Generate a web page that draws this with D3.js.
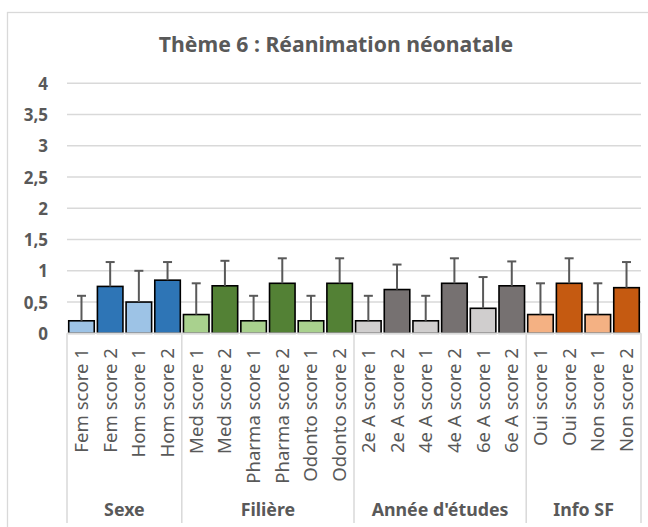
<!DOCTYPE html>
<html>
<head>
<meta charset="utf-8">
<script src="https://cdn.jsdelivr.net/npm/d3@7"></script>
<style>
  html, body { margin: 0; padding: 0; background: #fff; }
  svg { display: block; }
</style>
</head>
<body>
<svg id="chart" width="648" height="527"></svg>
<script>
const title = "Thème 6 : Réanimation néonatale";
const categories = [
  "Fem score 1", "Fem score 2", "Hom score 1", "Hom score 2",
  "Med score 1", "Med score 2", "Pharma score 1", "Pharma score 2", "Odonto score 1", "Odonto score 2",
  "2e A score 1", "2e A score 2", "4e A score 1", "4e A score 2", "6e A score 1", "6e A score 2",
  "Oui score 1", "Oui score 2", "Non score 1", "Non score 2"
];
const groups = ["Sexe", "Filière", "Année d'études", "Info SF"];
const groupSizes = [4, 6, 6, 4];
const values = [0.2, 0.75, 0.5, 0.85, 0.3, 0.76, 0.2, 0.8, 0.2, 0.8, 0.2, 0.7, 0.2, 0.8, 0.4, 0.76, 0.3, 0.8, 0.3, 0.73];
const errors = [0.4, 0.39, 0.5, 0.29, 0.5, 0.4, 0.4, 0.4, 0.4, 0.4, 0.4, 0.4, 0.4, 0.4, 0.5, 0.39, 0.5, 0.4, 0.5, 0.41];
const yTicks = [0, 0.5, 1, 1.5, 2, 2.5, 3, 3.5, 4];
const groupColors = [
  ["#9DC3E6", "#2E75B6"],
  ["#A9D18E", "#538135"],
  ["#D0CECE", "#767171"],
  ["#F4B183", "#C55A11"]
];

(function () {
const svg = d3.select("#chart");
const pLeft = 67, pRight = 641, pTop = 83.3, pBottom = 333.3, axisBottom = 523;

// chart border
svg.append("rect").attr("x", 7.5).attr("y", 12.5).attr("width", 660).attr("height", 540)
  .attr("fill", "#fff").attr("stroke", "#d9d9d9").attr("stroke-width", 1.3);

svg.append("text").attr("x", 336).attr("y", 52).attr("text-anchor", "middle")
  .attr("font-family", "Noto Sans").attr("font-weight", "bold").attr("font-size", 21.2)
  .attr("fill", "#595959").text(title);

const x = d3.scaleBand().domain(categories).range([pLeft, pRight]).paddingInner(0.11).paddingOuter(0.06);
const y = d3.scaleLinear().domain([0, 4]).range([pBottom, pTop]);

// gridlines
svg.append("g").selectAll("line").data(yTicks.filter(d => d > 0)).join("line")
  .attr("x1", pLeft).attr("x2", pRight).attr("y1", d => y(d)).attr("y2", d => y(d))
  .attr("stroke", "#d9d9d9").attr("stroke-width", 1.5);

// y axis labels
const yAxis = d3.axisLeft(y).tickValues(yTicks).tickSize(0).tickPadding(0)
  .tickFormat(d => String(d).replace(".", ","));
const ya = svg.append("g").attr("transform", "translate(48,0)").call(yAxis);
ya.select(".domain").remove();
ya.selectAll("text").attr("font-family", "Noto Sans").attr("font-weight", "bold")
  .attr("font-size", 17).attr("fill", "#595959").attr("dy", "0.35em");

const groupOf = [];
groupSizes.forEach((n, gi) => { for (let i = 0; i < n; i++) groupOf.push(gi); });

// bars
svg.append("g").selectAll("rect").data(categories).join("rect")
  .attr("x", d => x(d)).attr("width", x.bandwidth())
  .attr("y", (d, i) => y(values[i])).attr("height", (d, i) => y(0) - y(values[i]))
  .attr("fill", (d, i) => groupColors[groupOf[i]][d.endsWith("2") ? 1 : 0])
  .attr("stroke", "#000").attr("stroke-width", 1.6);

// error bars (plus only)
const eb = svg.append("g").attr("stroke", "#595959").attr("stroke-width", 2);
categories.forEach((c, i) => {
  const cx = x(c) + x.bandwidth() / 2;
  const yt = y(values[i] + errors[i]);
  eb.append("line").attr("x1", cx).attr("x2", cx).attr("y1", y(values[i])).attr("y2", yt);
  eb.append("line").attr("x1", cx - 4.5).attr("x2", cx + 4.5).attr("y1", yt).attr("y2", yt);
});

// baseline
svg.append("line").attr("x1", pLeft).attr("x2", pRight).attr("y1", pBottom).attr("y2", pBottom)
  .attr("stroke", "#d9d9d9").attr("stroke-width", 1.5);

// group separators
const step = (pRight - pLeft) / categories.length;
let acc = 0;
const bounds = [0];
groupSizes.forEach(n => { acc += n; bounds.push(acc); });
svg.append("g").selectAll("line").data(bounds).join("line")
  .attr("x1", d => pLeft + d * step).attr("x2", d => pLeft + d * step)
  .attr("y1", pBottom).attr("y2", axisBottom)
  .attr("stroke", "#d9d9d9").attr("stroke-width", 1.5);

// category labels
svg.append("g").selectAll("text").data(categories).join("text")
  .attr("transform", d => `translate(${x(d) + x.bandwidth() / 2},348) rotate(-90)`)
  .attr("text-anchor", "end").attr("dy", "0.35em")
  .attr("font-family", "Noto Sans").attr("font-size", 18.6).attr("fill", "#595959")
  .text(d => d);

// group labels
svg.append("g").selectAll("text").data(groups).join("text")
  .attr("x", (d, i) => pLeft + (bounds[i] + bounds[i + 1]) / 2 * step)
  .attr("y", 516).attr("text-anchor", "middle")
  .attr("font-family", "Noto Sans").attr("font-weight", "bold").attr("font-size", 17.8)
  .attr("fill", "#595959").text(d => d);
})();
</script>
</body>
</html>
